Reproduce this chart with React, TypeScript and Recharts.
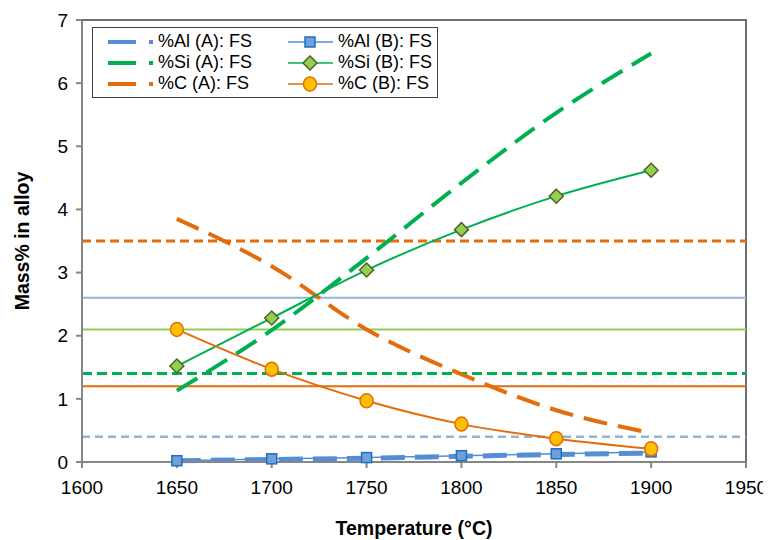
import {
  Line,
  LineChart,
  ReferenceArea,
  ReferenceLine,
  XAxis,
  YAxis,
} from 'recharts'

const temperaturas = [1650, 1700, 1750, 1800, 1850, 1900]

const alA = [0.02, 0.04, 0.06, 0.09, 0.12, 0.14]
const siA = [1.13, 2.09, 3.23, 4.42, 5.53, 6.47]
const cA = [3.85, 3.1, 2.1, 1.39, 0.82, 0.46]

const alB = [0.02, 0.05, 0.07, 0.1, 0.13, 0.16]
const siB = [1.52, 2.28, 3.04, 3.68, 4.21, 4.62]
const cB = [2.1, 1.47, 0.97, 0.6, 0.37, 0.21]

const ticksX = [1600, 1650, 1700, 1750, 1800, 1850, 1900, 1950]
const ticksY = [0, 1, 2, 3, 4, 5, 6, 7]

// niveles horizontales: valor, color, trazo
const niveles = [
  { y: 3.5, color: '#E46C0A', dash: '9 5', ancho: 3 },
  { y: 2.6, color: '#95B3D7', dash: undefined, ancho: 2 },
  { y: 2.1, color: '#92D050', dash: undefined, ancho: 2 },
  { y: 1.4, color: '#00B050', dash: '10 5', ancho: 3 },
  { y: 1.2, color: '#E46C0A', dash: undefined, ancho: 2 },
  { y: 0.4, color: '#95B3D7', dash: '8 5', ancho: 2.5 },
]

const AZUL = '#558ED5'
const VERDE = '#00B050'
const NARANJA = '#E46C0A'

const datos = temperaturas.map((t, i) => ({
  t,
  alA: alA[i],
  siA: siA[i],
  cA: cA[i],
  alB: alB[i],
  siB: siB[i],
  cB: cB[i],
}))

const fuente = '"Liberation Sans", Arial, sans-serif'

function Cuadro(props: any) {
  const { cx, cy } = props
  if (cx == null || cy == null) return null
  return <rect x={cx - 5} y={cy - 5} width={10} height={10} fill="#6FA0DC" stroke="#1F6FC0" strokeWidth={1.5} />
}

function Rombo(props: any) {
  const { cx, cy } = props
  if (cx == null || cy == null) return null
  return (
    <polygon
      points={`${cx},${cy - 7} ${cx + 7},${cy} ${cx},${cy + 7} ${cx - 7},${cy}`}
      fill="#92D050"
      stroke="#4F6228"
      strokeWidth={1.5}
    />
  )
}

function Circulo(props: any) {
  const { cx, cy } = props
  if (cx == null || cy == null) return null
  return <ellipse cx={cx} cy={cy} rx={6.5} ry={7} fill="#FFC000" stroke={NARANJA} strokeWidth={1.5} />
}

const leyenda = [
  { nombre: '%Al (A): FS', color: AZUL, tipo: 'A' },
  { nombre: '%Al (B): FS', color: AZUL, tipo: 'cuadro' },
  { nombre: '%Si (A): FS', color: VERDE, tipo: 'A' },
  { nombre: '%Si (B): FS', color: VERDE, tipo: 'rombo' },
  { nombre: '%C (A): FS', color: NARANJA, tipo: 'A' },
  { nombre: '%C (B): FS', color: NARANJA, tipo: 'circulo' },
]

function Icono({ color, tipo }: { color: string; tipo: string }) {
  if (tipo === 'A') {
    return (
      <svg width={45} height={14}>
        <line x1={0} y1={7} x2={45} y2={7} stroke={color} strokeWidth={4} strokeDasharray="28 13" />
      </svg>
    )
  }
  return (
    <svg width={45} height={16}>
      <line x1={0} y1={8} x2={45} y2={8} stroke={color} strokeWidth={1.5} />
      {tipo === 'cuadro' && <Cuadro cx={22} cy={8} />}
      {tipo === 'rombo' && <Rombo cx={22} cy={8} />}
      {tipo === 'circulo' && <Circulo cx={22} cy={8} />}
    </svg>
  )
}

export default function App() {
  return (
    <div style={{ position: 'relative', width: 763, height: 532, fontFamily: fuente }}>
      <LineChart width={763} height={532} data={datos} margin={{ top: 12, right: 25, bottom: 0, left: 0 }}>
        <ReferenceArea x1={1600} x2={1950} y1={0} y2={7} fill="none" stroke="#404040" strokeWidth={1.5} />
        {niveles.map((n) => (
          <ReferenceLine
            key={`${n.y}-${n.color}`}
            y={n.y}
            stroke={n.color}
            strokeWidth={n.ancho}
            strokeDasharray={n.dash}
          />
        ))}
        <XAxis
          dataKey="t"
          type="number"
          domain={[1600, 1950]}
          ticks={ticksX}
          height={78}
          tick={{ fontSize: 19, fill: '#000', fontFamily: fuente }}
          tickSize={6}
          tickMargin={13}
          stroke="#868686"
          strokeWidth={2}
          label={{
            value: 'Temperature (°C)',
            position: 'insideBottom',
            offset: 5,
            style: { fontSize: 19.5, fontWeight: 'bold', fill: '#000', fontFamily: fuente },
          }}
        />
        <YAxis
          type="number"
          domain={[0, 7]}
          ticks={ticksY}
          width={74}
          tick={{ fontSize: 19, fill: '#000', fontFamily: fuente }}
          tickSize={6}
          tickMargin={8}
          stroke="#868686"
          strokeWidth={2}
          label={{
            value: 'Mass% in alloy',
            angle: -90,
            position: 'insideLeft',
            offset: 14,
            style: { fontSize: 19.5, fontWeight: 'bold', fill: '#000', fontFamily: fuente, textAnchor: 'middle' },
          }}
        />
        <Line type="monotone" dataKey="alA" stroke={AZUL} strokeWidth={5} strokeDasharray="24 10" dot={false} isAnimationActive={false} />
        <Line type="monotone" dataKey="siA" stroke={VERDE} strokeWidth={4} strokeDasharray="24 11" dot={false} isAnimationActive={false} />
        <Line type="monotone" dataKey="cA" stroke={NARANJA} strokeWidth={4} strokeDasharray="24 11" dot={false} isAnimationActive={false} />
        <Line type="monotone" dataKey="alB" stroke={AZUL} strokeWidth={1.5} dot={<Cuadro />} isAnimationActive={false} />
        <Line type="monotone" dataKey="siB" stroke={VERDE} strokeWidth={2} dot={<Rombo />} isAnimationActive={false} />
        <Line type="monotone" dataKey="cB" stroke={NARANJA} strokeWidth={2} dot={<Circulo />} isAnimationActive={false} />
      </LineChart>
      <div
        style={{
          position: 'absolute',
          left: 84,
          top: 19,
          width: 346,
          height: 71,
          border: '1.5px solid #404040',
          background: '#fff',
          display: 'grid',
          gridTemplateColumns: '180px 164px',
          gridAutoRows: '21px',
          paddingTop: 3,
          boxSizing: 'border-box',
          fontSize: 18,
          color: '#000',
        }}
      >
        {leyenda.map((l) => (
          <div key={l.nombre} style={{ display: 'flex', alignItems: 'center', paddingLeft: 15 }}>
            <Icono color={l.color} tipo={l.tipo} />
            <span style={{ marginLeft: 5, whiteSpace: 'nowrap' }}>{l.nombre}</span>
          </div>
        ))}
      </div>
    </div>
  )
}
